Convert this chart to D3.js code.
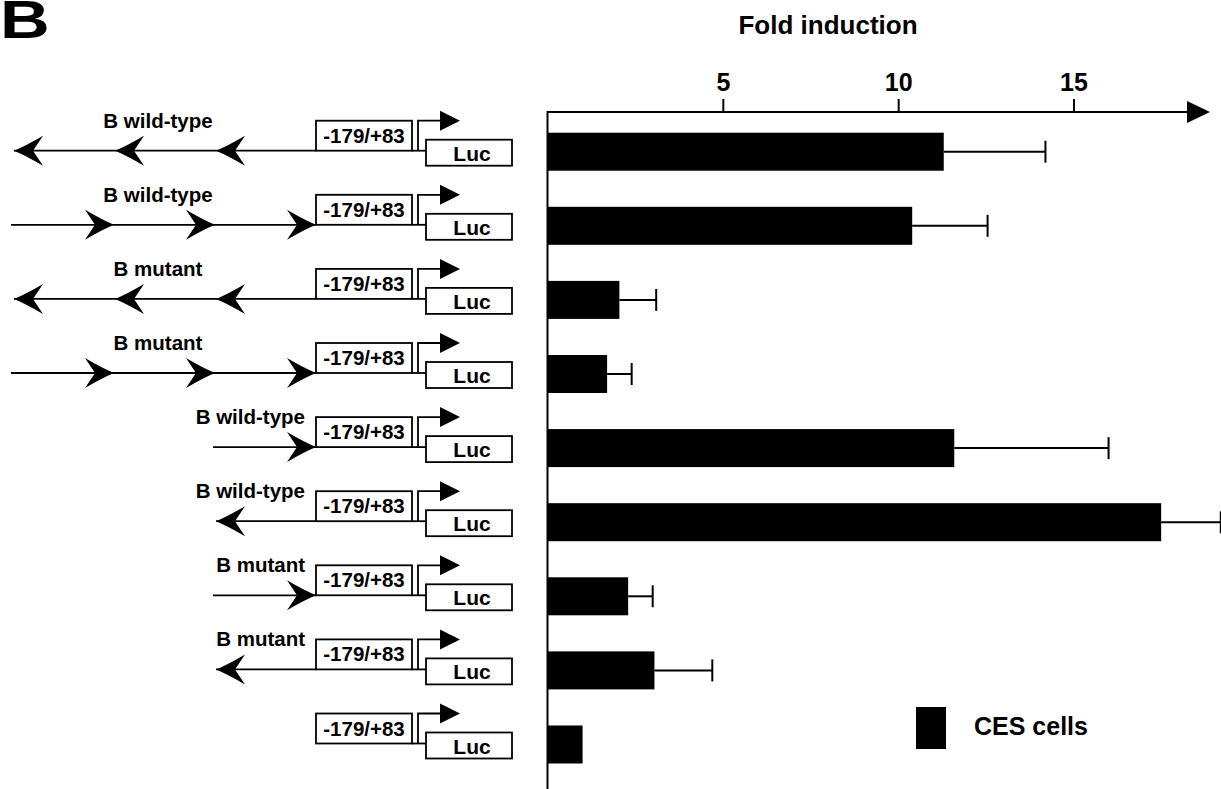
<!DOCTYPE html>
<html>
<head>
<meta charset="utf-8">
<script src="https://cdn.jsdelivr.net/npm/d3@7"></script>
<style>
  html, body { margin: 0; padding: 0; background: #fff; }
  svg { display: block; }
  text { font-family: "Liberation Sans", Arial, Helvetica, sans-serif; font-weight: bold; fill: #000; }
</style>
</head>
<body>
<script>
// Reporter constructs (top to bottom) and their fold induction in CES cells
const constructLabels = ["B wild-type", "B wild-type", "B mutant", "B mutant",
                         "B wild-type", "B wild-type", "B mutant", "B mutant", ""];
const elementCopies = [3, 3, 3, 3, 1, 1, 1, 1, 0];
const elementOrientation = ["reverse", "forward", "reverse", "forward",
                            "forward", "reverse", "forward", "reverse", "none"];
const foldInduction = [11.3, 10.4, 2.05, 1.7, 11.6, 17.5, 2.3, 3.05, 1.0];
const foldError = [2.9, 2.15, 1.05, 0.7, 4.4, 1.7, 0.7, 1.65, 0];
const tickValues = [5, 10, 15];
const promoterLabel = "-179/+83";
const reporterLabel = "Luc";
const legendLabel = "CES cells";
const axisTitle = "Fold induction";
const panelLetter = "B";

const W = 1221, H = 789;
const svg = d3.select("body").append("svg").attr("width", W).attr("height", H);

const rows = d3.range(foldInduction.length);
const x = d3.scaleLinear().domain([0, 15]).range([547.5, 1073.5]);
const y = d3.scalePoint().domain(rows).range([151.7, 744.5]);
const barH = 38;
const axisY = 112;

// Panel letter
svg.append("text").attr("transform", "translate(0,38) scale(1.3,1)")
  .attr("font-size", 53).text(panelLetter);

// Axis title
svg.append("text").attr("x", 828).attr("y", 34).attr("text-anchor", "middle")
  .attr("font-size", 26).text(axisTitle);

// Top axis with ticks
const axis = d3.axisTop(x).tickValues(tickValues).tickSize(13).tickSizeOuter(0).tickPadding(8);
const gAxis = svg.append("g").attr("transform", `translate(0,${axisY})`).call(axis);
gAxis.select(".domain").remove();
gAxis.selectAll(".tick line").attr("stroke", "#000").attr("stroke-width", 2);
gAxis.selectAll(".tick text").attr("font-size", 25).attr("font-family", null).attr("fill", "#000");

// Axis lines: horizontal with arrowhead, vertical baseline at zero
const xEnd = 1190;
svg.append("line").attr("x1", x(0)).attr("x2", xEnd).attr("y1", axisY).attr("y2", axisY)
  .attr("stroke", "#000").attr("stroke-width", 2);
svg.append("path")
  .attr("d", `M${xEnd - 3},${axisY - 11} L${xEnd + 20},${axisY} L${xEnd - 3},${axisY + 11} Z`)
  .attr("fill", "#000");
svg.append("line").attr("x1", x(0)).attr("x2", x(0)).attr("y1", axisY - 1).attr("y2", H)
  .attr("stroke", "#000").attr("stroke-width", 2);

// Bars
svg.append("g").selectAll("rect").data(rows).join("rect")
  .attr("x", x(0))
  .attr("y", i => y(i) - barH / 2)
  .attr("width", i => x(foldInduction[i]) - x(0))
  .attr("height", barH)
  .attr("fill", "#000");

// Error bars
const eb = svg.append("g").attr("stroke", "#000").attr("stroke-width", 2)
  .selectAll("g").data(rows.filter(i => foldError[i] > 0)).join("g");
eb.append("line")
  .attr("x1", i => x(foldInduction[i])).attr("x2", i => x(foldInduction[i] + foldError[i]))
  .attr("y1", i => y(i)).attr("y2", i => y(i));
eb.append("line")
  .attr("x1", i => x(foldInduction[i] + foldError[i])).attr("x2", i => x(foldInduction[i] + foldError[i]))
  .attr("y1", i => y(i) - 11).attr("y2", i => y(i) + 11);

// Legend
svg.append("rect").attr("x", 916).attr("y", 707).attr("width", 30).attr("height", 42).attr("fill", "#000");
svg.append("text").attr("x", 974).attr("y", 735).attr("font-size", 25).text(legendLabel);

// Construct diagrams
const boxLeft = 316, boxW = 96, boxH = 30;
const startX = 418;
const lucLeft = 426, lucW = 86;
const spacing = 101;
const headR = "M0,0 Q-12,-5 -29,-15 L-19,0 L-29,15 Q-12,5 0,0 Z";
const headL = "M0,0 Q12,-5 29,-15 L19,0 L29,15 Q12,5 0,0 Z";

rows.forEach(i => {
  const L = y(i) - 1;
  const g = svg.append("g").attr("transform", `translate(0,${L})`);
  const n = elementCopies[i];
  const dir = elementOrientation[i];

  if (n > 0) {
    const tips = d3.range(n).map(k => dir === "forward"
      ? boxLeft - k * spacing
      : boxLeft - 100 - k * spacing);
    const lineStart = dir === "forward" ? boxLeft - n * spacing - 2 : d3.min(tips);
    g.append("line").attr("x1", lineStart).attr("x2", boxLeft).attr("y1", 0).attr("y2", 0)
      .attr("stroke", "#000").attr("stroke-width", 1.8);
    tips.forEach(tip => {
      g.append("path").attr("d", dir === "forward" ? headR : headL)
        .attr("transform", `translate(${tip},0)`).attr("fill", "#000");
    });
    if (n > 1) {
      g.append("text").attr("x", 158).attr("y", -23).attr("text-anchor", "middle")
        .attr("font-size", 20.5).text(constructLabels[i]);
    } else {
      g.append("text").attr("x", 305).attr("y", -23).attr("text-anchor", "end")
        .attr("font-size", 20.5).text(constructLabels[i]);
    }
  }

  // Promoter fragment box
  g.append("rect").attr("x", boxLeft).attr("y", -boxH).attr("width", boxW).attr("height", boxH)
    .attr("fill", "#fff").attr("stroke", "#000").attr("stroke-width", 1.8);
  g.append("text").attr("x", boxLeft + boxW / 2).attr("y", -8).attr("text-anchor", "middle")
    .attr("font-size", 20.5).text(promoterLabel);

  // Link from promoter to reporter
  g.append("line").attr("x1", boxLeft + boxW).attr("x2", lucLeft).attr("y1", 0).attr("y2", 0)
    .attr("stroke", "#000").attr("stroke-width", 1.8);

  // Transcription start (bent arrow)
  g.append("path").attr("d", `M${startX},0 V-30 H${startX + 24}`)
    .attr("fill", "none").attr("stroke", "#000").attr("stroke-width", 1.8);
  g.append("path").attr("d", `M${startX + 22},-40 L${startX + 42},-30 L${startX + 22},-20 Z`)
    .attr("fill", "#000");

  // Luciferase reporter box
  g.append("rect").attr("x", lucLeft).attr("y", -11).attr("width", lucW).attr("height", 26)
    .attr("fill", "#fff").attr("stroke", "#000").attr("stroke-width", 1.8);
  g.append("text").attr("x", lucLeft + lucW / 2 + 3).attr("y", 10).attr("text-anchor", "middle")
    .attr("font-size", 21).text(reporterLabel);
});
</script>
</body>
</html>
